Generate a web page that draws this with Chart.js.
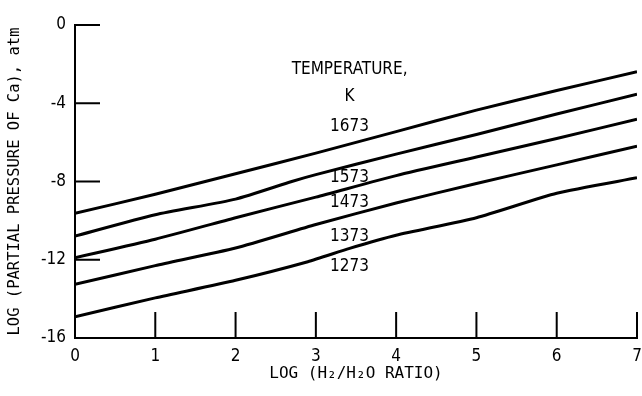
<!DOCTYPE html>
<html>
<head>
<meta charset="utf-8">
<script src="https://cdn.jsdelivr.net/npm/chart.js@4/dist/chart.umd.min.js"></script>
<style>
  html, body { margin: 0; padding: 0; background: #fff; }
  #wrap { width: 642px; height: 396px; }
</style>
</head>
<body>
<div id="wrap"><canvas id="chart" width="642" height="396"></canvas></div>
<script>
// temperatures (K), one curve each
const temps = ['1673', '1573', '1473', '1373', '1273'];

// log(H2/H2O) points
const x1673 = [0, 1, 2, 3, 4, 5, 6, 7];
const y1673 = [-9.63, -8.65, -7.6, -6.55, -5.45, -4.35, -3.35, -2.39];

const x1573 = [0, 1, 2, 2.7, 3, 4, 5, 6, 7];
const y1573 = [-10.79, -9.7, -8.9, -8.0, -7.65, -6.6, -5.6, -4.55, -3.54];

const x1473 = [0, 1, 2, 3, 4, 5, 6, 7];
const y1473 = [-11.9, -10.95, -9.85, -8.8, -7.7, -6.75, -5.8, -4.82];

const x1373 = [0, 1, 2, 3, 4, 5, 6, 7];
const y1373 = [-13.26, -12.3, -11.4, -10.2, -9.1, -8.1, -7.15, -6.19];

const x1273 = [0, 1, 2, 2.9, 3.42, 4, 5, 6, 7];
const y1273 = [-14.91, -13.95, -13.05, -12.1, -11.42, -10.75, -9.85, -8.6, -7.81];

// axis ticks
const xTicks = [0, 1, 2, 3, 4, 5, 6, 7];
const yTicks = [0, -4, -8, -12, -16];

const FONT = "'Liberation Sans Narrow', 'DejaVu Sans Condensed', 'DejaVu Sans', sans-serif";
const MONO = "'DejaVu Sans Mono', 'Liberation Mono', monospace";

function pts(xs, ys) {
  return xs.map((x, i) => ({x: x, y: ys[i]}));
}

const series = [
  pts(x1673, y1673),
  pts(x1573, y1573),
  pts(x1473, y1473),
  pts(x1373, y1373),
  pts(x1273, y1273)
];

// short tick marks pointing into the plot, plus the curve labels
const inwardTicks = {
  id: 'inwardTicks',
  afterDatasetsDraw(chart) {
    const ctx = chart.ctx;
    const xs = chart.scales.x, ys = chart.scales.y;
    const area = chart.chartArea;
    ctx.save();
    ctx.strokeStyle = '#000';
    ctx.lineWidth = 2;
    ctx.beginPath();
    yTicks.forEach(v => {
      if (v === -16) return;
      const py = ys.getPixelForValue(v);
      ctx.moveTo(area.left, py);
      ctx.lineTo(area.left + 25, py);
    });
    xTicks.forEach(v => {
      if (v === 0) return;
      const px = xs.getPixelForValue(v);
      ctx.moveTo(px, area.bottom);
      ctx.lineTo(px, area.bottom - 26);
    });
    ctx.stroke();

    ctx.fillStyle = '#000';
    ctx.font = '17px ' + FONT;
    ctx.textAlign = 'center';
    ctx.textBaseline = 'middle';
    const lx = xs.getPixelForValue(3.42);
    ctx.fillText('TEMPERATURE,', lx, ys.getPixelForValue(-2.3));
    ctx.fillText('K', lx, ys.getPixelForValue(-3.68));
    const ly = [-5.21, -7.82, -9.1, -10.84, -12.37];
    temps.forEach((t, i) => {
      ctx.fillText(t, lx, ys.getPixelForValue(ly[i]));
    });
    ctx.restore();
  }
};

new Chart(document.getElementById('chart'), {
  type: 'line',
  data: {
    datasets: temps.map((t, i) => ({
      label: t + ' K',
      data: series[i],
      borderColor: '#000',
      borderWidth: 3,
      pointRadius: 0,
      fill: false,
      tension: 0.2
    }))
  },
  options: {
    responsive: false,
    animation: false,
    layout: { padding: { top: 25, right: 5, left: 0, bottom: 0 } },
    plugins: {
      legend: { display: false },
      tooltip: { enabled: false }
    },
    scales: {
      x: {
        type: 'linear',
        min: 0,
        max: 7,
        afterFit: s => { s.height = 58; s.paddingLeft = 0; s.paddingRight = 0; },
        afterBuildTicks: s => { s.ticks = xTicks.map(v => ({value: v})); },
        grid: { display: false, drawTicks: false },
        border: { display: true, color: '#000', width: 2 },
        ticks: {
          color: '#000',
          padding: 8,
          font: { family: FONT, size: 17 }
        },
        title: {
          display: true,
          text: 'LOG (H\u2082/H\u2082O RATIO)',
          color: '#000',
          padding: { top: 0, bottom: 13 },
          font: { family: MONO, size: 16 }
        }
      },
      y: {
        type: 'linear',
        min: -16,
        max: 0,
        afterFit: s => { s.width = 75; },
        afterBuildTicks: s => { s.ticks = yTicks.map(v => ({value: v})); },
        grid: { display: false, drawTicks: false },
        border: { display: true, color: '#000', width: 2 },
        ticks: {
          color: '#000',
          padding: 9,
          font: { family: FONT, size: 17 }
        },
        title: {
          display: true,
          text: 'LOG (PARTIAL PRESSURE OF Ca), atm',
          color: '#000',
          padding: { top: 6, bottom: 0 },
          font: { family: MONO, size: 15.5 }
        }
      }
    }
  },
  plugins: [inwardTicks]
});
</script>
</body>
</html>
